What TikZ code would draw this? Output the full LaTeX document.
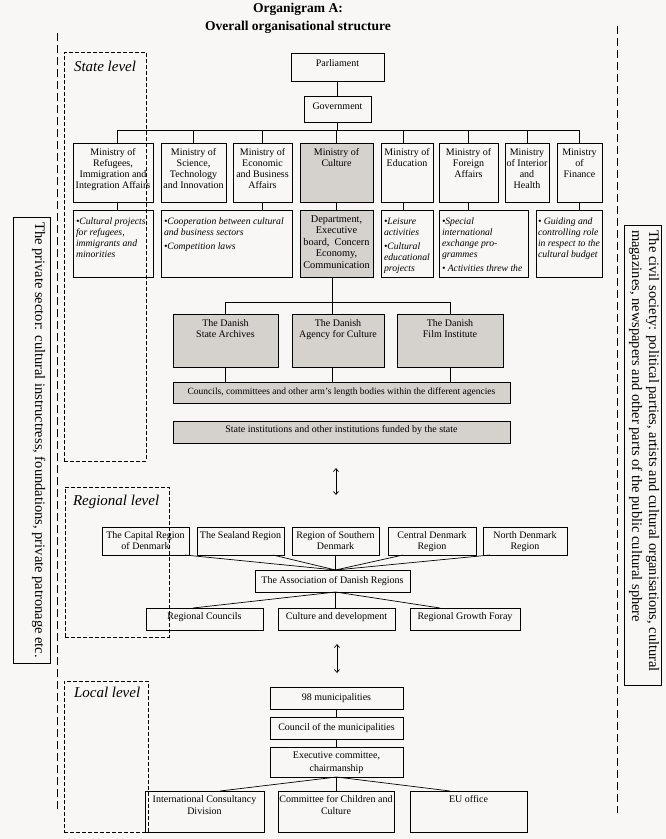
\documentclass[tikz,border=0pt]{standalone}
\usepackage{fontspec}
\setmainfont{Liberation Serif}
\usetikzlibrary{arrows.meta}
\definecolor{bg}{HTML}{F8F7F5}
\definecolor{cellgray}{HTML}{D5D1CD}
\tikzset{
  bxs/.style={draw=black, line width=0.7pt, inner sep=0pt, outer sep=0pt},
  gbox/.style={bxs, fill=cellgray},
  conn/.style={draw=black, line width=0.7pt},
  lvl/.style={draw=black, line width=0.9pt, dash pattern=on 4pt off 2pt, inner sep=0pt, outer sep=0pt},
  outerline/.style={draw=black, line width=1pt, dash pattern=on 8pt off 4pt},
  dblarrow/.style={conn, {Straight Barb[length=3pt,width=5pt]}-{Straight Barb[length=3pt,width=5pt]}},
}
% #1 style, #2 name, #3 x, #4 y(top), #5 width, #6 height, #7 content
\newcommand\bx[7][]{\node[bxs,#1,anchor=north west] (#2) at (#3,#4) {\parbox[c][#6pt][t]{#5pt}{#7}};}
\newcommand\tcen[2]{\centering\rule{0pt}{#1pt}#2}
\newcommand\tlft[2]{\raggedright\leftskip=3pt\itshape\fontsize{9.7}{11}\selectfont\rule{0pt}{#1pt}#2}
\begin{document}
\begin{tikzpicture}[x=1pt,y=-1pt,font=\fontsize{10}{11}\selectfont]
\fill[bg] (0,0) rectangle (666,839);
\useasboundingbox (0,0) rectangle (666,839);

% title
\node[font=\fontsize{13.5}{18}\selectfont\bfseries, align=center] (title) at (298,18.5) {Organigram A:\\Overall organisational structure};

% state level
\bx{parl}{291}{53}{93}{28}{\tcen{13}{Parliament}}
\bx{gov}{304}{96}{67}{26.5}{\tcen{13}{Government}}

\bx{ref}{73}{143}{80}{59}{\tcen{12}{Ministry of\\Refugees,\\Immigration and\\Integration Affairs}}
\bx{sci}{161}{143}{65}{59}{\tcen{12}{Ministry of\\Science,\\Technology\\and Innovation}}
\bx{eco}{233}{143}{59}{59}{\tcen{12}{Ministry of\\Economic\\and Business\\Affairs}}
\bx[gbox]{cul}{300}{143}{73}{59}{\tcen{12}{Ministry of\\Culture}}
\bx{edu}{381}{143}{52}{59}{\tcen{12}{Ministry of\\Education}}
\bx{for}{439}{143}{59}{59}{\tcen{12}{Ministry of\\Foreign\\Affairs}}
\bx{int}{505}{143}{44}{59}{\tcen{12}{Ministry\\of Interior\\and\\Health}}
\bx{fin}{557}{143}{45}{59}{\tcen{12}{Ministry\\of\\Finance}}

\bx{rdesc}{73}{210}{80}{67}{\tlft{14}{•Cultural projects\\for refugees,\\immigrants and\\minorities}}
\bx{sdesc}{161}{210}{131}{67}{\tlft{14}{•Cooperation between cultural\\and business sectors\\[3pt]•Competition laws}}
\bx[gbox]{cdesc}{300}{210}{73}{67}{\centering\fontsize{10.3}{11.5}\selectfont\rule{0pt}{12pt}Department,\\Executive\\board,\ \ Concern\\Economy,\\Communication}
\bx{edesc}{381}{210}{52}{67}{\tlft{14}{•Leisure\\activities\\[3pt]•Cultural\\educational\\projects}}
\bx{fdesc}{439}{210}{89}{67}{\tlft{14}{•Special\\international\\exchange pro-\\grammes\\[3pt]• Activities threw the}}
\bx{findesc}{536}{210}{66}{67}{\raggedright\leftskip=2pt\itshape\fontsize{9.7}{11}\selectfont\rule{0pt}{14pt}• Guiding and\\controlling role\\in respect to the\\cultural budget}

\bx[gbox]{arch}{173}{314}{105}{53}{\tcen{12}{The Danish\\State Archives}}
\bx[gbox]{acul}{292}{314}{92}{53}{\tcen{12}{The Danish\\Agency for Culture}}
\bx[gbox]{film}{397}{314}{106}{53}{\tcen{12}{The Danish\\Film Institute}}
\bx[gbox]{councils}{173}{382}{337}{21}{\centering\fontsize{9.5}{11}\selectfont\rule{0pt}{12pt}Councils, committees and other arm’s length bodies within the different agencies}
\bx[gbox]{stinst}{173}{421}{337}{22}{\tcen{11}{State institutions and other institutions funded by the state}}

% regional level
\bx{cap}{102}{527}{87}{28}{\tcen{11}{The Capital Region\\of Denmark}}
\bx{sea}{197}{527}{87}{28}{\tcen{11}{The Sealand Region}}
\bx{sou}{292}{527}{87}{28}{\tcen{11}{Region of Southern\\Denmark}}
\bx{cen}{388}{527}{88}{28}{\tcen{11}{Central Denmark\\Region}}
\bx{nor}{483}{527}{84}{28}{\tcen{11}{North Denmark\\Region}}
\bx{assoc}{255}{570}{155}{22}{\tcen{13}{The Association of Danish Regions}}
\bx{rc}{146}{608}{117}{22}{\tcen{11}{Regional Councils}}
\bx{cd}{278}{608}{117}{22}{\tcen{11}{Culture and development}}
\bx{rg}{410}{608}{110}{22}{\tcen{11}{Regional Growth Foray}}

% local level
\bx{m98}{270}{687}{133}{22}{\tcen{13}{98 municipalities}}
\bx{cm}{270}{717}{133}{22}{\tcen{13}{Council of the municipalities}}
\bx{ex}{270}{747}{133}{30}{\tcen{11}{Executive committee,\\[2pt]chairmanship}}
\bx{intl}{145}{791}{119}{41}{\tcen{11}{International Consultancy\\[1pt]Division}}
\bx{com}{278}{791}{116}{41}{\tcen{11}{Committee for Children and\\[1pt]Culture}}
\bx{eu}{410}{791}{117}{41}{\tcen{11}{EU office}}

% side boxes
\node[bxs, rotate=-90] (priv) at (31.5,440) {\parbox[c][37pt][t]{446pt}{\centering\fontsize{14.5}{17}\selectfont\rule{0pt}{15pt}The private sector: cultural instructress, foundations, private patronage etc.}};
\node[bxs, rotate=-90] (civ) at (642.5,455) {\parbox[c][37pt][t]{460pt}{\raggedright\leftskip=5pt\fontsize{14.5}{17}\selectfont\rule{0pt}{12pt}The civil society: political parties, artists and cultural organisations, cultural\\magazines, newspapers and other parts of the public cultural sphere}};

% connectors: state
\coordinate (busL) at (0,130);
\coordinate (abus) at (0,302);
\coordinate (reft) at ([xshift=4pt]ref.north);
\coordinate (refb) at ([xshift=4pt]ref.south);
\coordinate (edut) at ([xshift=-4pt]edu.north);
\coordinate (edub) at ([xshift=-4pt]edu.south);
\coordinate (cdb) at ([xshift=-4.5pt]cdesc.south);
\draw[conn] (parl) -- (gov);
\draw[conn] (gov.south) -- (gov.south |- busL);
\draw[conn] (reft) |- (fin.north |- busL) -- (fin.north);
\foreach \n in {sci,eco,cul,for,int} \draw[conn] (\n.north) -- (\n.north |- busL);
\draw[conn] (edut) -- (edut |- busL);
\draw[conn] (refb) -- (refb |- rdesc.north);
\draw[conn] (eco.south) -- (eco.south |- sdesc.north);
\draw[conn] (cul) -- (cdesc);
\draw[conn] (edub) -- (edub |- edesc.north);
\draw[conn] (for.south) -- (for.south |- fdesc.north);
\draw[conn] (fin.south) -- (fin.south |- findesc.north);
\draw[conn] (cdb) -- (cdb |- abus);
\draw[conn] (arch.north) |- (film.north |- abus) -- (film.north);
\draw[conn] (cdb |- abus) -- (cdb |- acul.north);
\draw[conn] (arch.south) -- (arch.south |- councils.north);
\draw[conn] (cdb |- acul.south) -- (cdb |- councils.north);
\draw[conn] (film.south) -- (film.south |- councils.north);

% arrows between levels
\coordinate (a1t) at (336,468);
\coordinate (a1b) at (336,495);
\coordinate (a2t) at (337,644);
\coordinate (a2b) at (337,673);
\draw[dblarrow] (a1t) -- (a1b);
\draw[dblarrow] (a2t) -- (a2b);

% connectors: regional
\coordinate (conv) at (sou.south |- assoc.north);
\coordinate (conv2) at (sou.south |- assoc.south);
\draw[conn] ([xshift=-4pt]cap.south east) -- (conv);
\draw[conn] ([xshift=-11pt]sea.south east) -- (conv);
\draw[conn] (sou.south) -- (conv);
\draw[conn] ([xshift=15pt]cen.south west) -- (conv);
\draw[conn] ([xshift=7pt]nor.south west) -- (conv);
\draw[conn] (conv2) -- ([xshift=-11.5pt]rc.north);
\draw[conn] (conv2) -- (conv2 |- cd.north);
\draw[conn] (conv2) -- ([xshift=-25pt]rg.north);

% connectors: local
\draw[conn] (m98) -- (cm);
\draw[conn] (cm) -- (ex);
\draw[conn] (ex.south) -- ([xshift=15.5pt]intl.north);
\draw[conn] (ex.south) -- (ex.south |- com.north);
\draw[conn] (ex.south) -- ([xshift=-18.5pt]eu.north);

% level frames
\bx[lvl]{lstate}{64}{52.5}{82}{408.5}{\raggedright\fontsize{15}{18}\selectfont\itshape\hspace*{10pt}\rule{0pt}{18.5pt}State level}
\bx[lvl]{lreg}{65}{487}{104}{150}{\raggedright\fontsize{15}{18}\selectfont\itshape\hspace*{8pt}\rule{0pt}{18pt}Regional level}
\bx[lvl]{lloc}{64}{681}{84}{151}{\raggedright\fontsize{15}{18}\selectfont\itshape\hspace*{10pt}\rule{0pt}{16.5pt}Local level}

% outer dashed separators
\coordinate (ol1) at (57,33);
\coordinate (ol2) at (57,812);
\coordinate (or1) at (617,26);
\coordinate (or2) at (617,813);
\draw[outerline] (ol1) -- (ol2);
\draw[outerline] (or1) -- (or2);
\end{tikzpicture}
\end{document}
